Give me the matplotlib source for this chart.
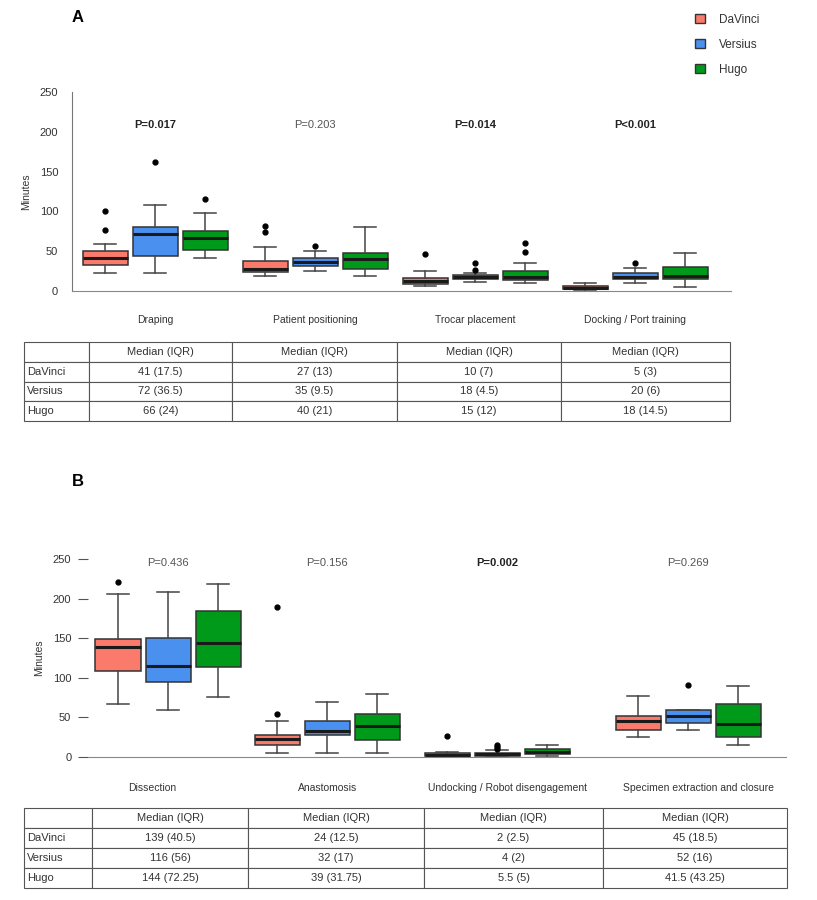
import numpy as np
import matplotlib
matplotlib.use('Agg')
import matplotlib.pyplot as plt
from matplotlib.patches import Patch

plt.rcParams['font.family'] = ['Liberation Sans', 'DejaVu Sans']

robots = ['DaVinci', 'Versius', 'Hugo']
colors = ['#FA7A6B', '#4A90EE', '#009A1A']

# panel A
a_phases = ['Draping', 'Patient positioning', 'Trocar placement', 'Docking / Port training']
a_pvals = ['P=0.017', 'P=0.203', 'P=0.014', 'P<0.001']
a_bold = [True, False, True, True]
# rows: DaVinci, Versius, Hugo ; columns: phases
a_whislo = [[22, 19, 6, 1], [23, 25, 11, 9.6], [41, 19, 10.5, 5.4]]
a_q1 = [[32.7, 23.5, 8.4, 2.5], [44.3, 31.8, 14.7, 15.5], [51, 28, 13.4, 14.7]]
a_med = [[41, 27.6, 12.5, 4.2], [71.6, 36, 17, 18], [66, 40, 18, 18.8]]
a_q3 = [[50.6, 37.7, 16.5, 6.3], [80.8, 41.9, 20, 23], [75.8, 48, 25, 29.8]]
a_whishi = [[58.6, 55, 25, 9.6], [108, 50, 23, 28.5], [98, 80, 35, 47.7]]
a_fliers = [[[100.5, 76.6], [82, 74.5], [47], []],
            [[162], [56.5], [35.5, 27], [35.5]],
            [[115.6], [], [49.4, 60.7], []]]
a_table = [['41 (17.5)', '27 (13)', '10 (7)', '5 (3)'],
           ['72 (36.5)', '35 (9.5)', '18 (4.5)', '20 (6)'],
           ['66 (24)', '40 (21)', '15 (12)', '18 (14.5)']]

# panel B
b_phases = ['Dissection', 'Anastomosis', 'Undocking / Robot disengagement', 'Specimen extraction and closure']
b_pvals = ['P=0.436', 'P=0.156', 'P=0.002', 'P=0.269']
b_bold = [False, False, True, False]
b_whislo = [[67.2, 5, 0.8, 24.7], [59.6, 5, 0.8, 34.4], [75.2, 5, 1.6, 15.1]]
b_q1 = [[108.8, 15.5, 1.6, 33.6], [94.6, 27.3, 1.6, 42.9], [113.5, 21.8, 3.8, 24.7]]
b_med = [[138.7, 22.7, 2.9, 45], [115.5, 32.3, 3.3, 51.2], [143.8, 38.6, 6.3, 41.6]]
b_q3 = [[149, 28, 5, 51.2], [150.8, 45, 5, 58.8], [184.9, 54.2, 10, 67.2]]
b_whishi = [[205.5, 45, 6.7, 76.4], [208, 69.4, 9.2, 59.6], [218, 79.8, 15.1, 89.9]]
b_fliers = [[[220.7], [54.6, 190], [26], []],
            [[], [], [10, 12.6, 15.5], [90.3]],
            [[], [], [], []]]
b_table = [['139 (40.5)', '24 (12.5)', '2 (2.5)', '45 (18.5)'],
           ['116 (56)', '32 (17)', '4 (2)', '52 (16)'],
           ['144 (72.25)', '39 (31.75)', '5.5 (5)', '41.5 (43.25)']]

yticks = [0, 50, 100, 150, 200, 250]

W, H = 817, 900
fig = plt.figure(figsize=(W / 100, H / 100), dpi=100)


def px_axes(x0, y0, x1, y1):
    return fig.add_axes([x0 / W, 1 - y1 / H, (x1 - x0) / W, (y1 - y0) / H])


def draw_boxes(ax, centers, whislo, q1, med, q3, whishi, fliers):
    offsets = [-1, 0, 1]
    for r in range(3):
        stats = []
        for g in range(4):
            stats.append(dict(whislo=whislo[r][g], q1=q1[r][g], med=med[r][g],
                              q3=q3[r][g], whishi=whishi[r][g], fliers=fliers[r][g]))
        pos = [c + offsets[r] for c in centers]
        ax.bxp(stats, positions=pos, widths=0.9, capwidths=0.45, patch_artist=True,
               showfliers=True, manage_ticks=False,
               boxprops=dict(facecolor=colors[r], edgecolor='#333333', linewidth=1.1),
               medianprops=dict(color='#1a1a1a', linewidth=2.2),
               whiskerprops=dict(color='#444444', linewidth=1.1),
               capprops=dict(color='#444444', linewidth=1.1),
               flierprops=dict(marker='o', markerfacecolor='black', markeredgecolor='black',
                               markersize=3.5))


def draw_table(ax, rows, col_widths):
    ax.axis('off')
    cells = [[''] + ['Median (IQR)'] * 4]
    for name, row in zip(robots, rows):
        cells.append([name] + row)
    tb = ax.table(cellText=cells, colWidths=col_widths, bbox=[0, 0, 1, 1], cellLoc='center')
    tb.auto_set_font_size(False)
    tb.set_fontsize(8)
    for (r, c), cell in tb.get_celld().items():
        cell.set_edgecolor('#555555')
        cell.set_linewidth(0.8)
        cell.get_text().set_color('#333333')
        if c == 0:
            cell.PAD = 0.05
            cell.get_text().set_horizontalalignment('left')
            cell._loc = 'left'


# ---- panel A ----
axA = px_axes(72, 92, 731, 291)
a_centers = np.arange(4) * 3.2
draw_boxes(axA, a_centers, a_whislo, a_q1, a_med, a_q3, a_whishi, a_fliers)
axA.set_xlim(-1.66, 11.52)
axA.set_ylim(0, 250)
axA.set_yticks(yticks)
axA.set_xticks(a_centers)
axA.set_xticklabels(a_phases)
axA.tick_params(axis='x', length=0, pad=17, labelsize=7.5, labelcolor='#333333')
axA.tick_params(axis='y', length=0, pad=10, labelsize=8, labelcolor='#333333')
for s in ['top', 'right']:
    axA.spines[s].set_visible(False)
axA.spines['left'].set_color('#777777')
axA.spines['bottom'].set_color('#888888')
axA.set_ylabel('Minutes', fontsize=7.5, color='#333333', labelpad=6)
for c, p, b in zip(a_centers, a_pvals, a_bold):
    axA.text(c, 209, p, ha='center', va='center', fontsize=8,
             fontweight='bold' if b else 'normal', color='#222222' if b else '#555555')

tabA = px_axes(24, 342, 730, 421)
draw_table(tabA, a_table, [65, 143, 165, 164, 169])

# ---- panel B ----
axB = px_axes(88, 559, 786, 757)
b_centers = [0, 3.18, 6.58, 10.4]
b_label_pos = [-0.32, 3.2, 6.78, 10.6]
draw_boxes(axB, b_centers, b_whislo, b_q1, b_med, b_q3, b_whishi, b_fliers)
axB.set_xlim(-1.6, 12.36)
axB.set_ylim(0, 250)
axB.set_yticks(yticks)
axB.set_xticks(b_label_pos)
axB.set_xticklabels(b_phases)
axB.tick_params(axis='x', length=0, pad=19, labelsize=7.5, labelcolor='#333333')
axB.tick_params(axis='y', length=7, width=0.8, color='#555555', pad=5, labelsize=8,
                labelcolor='#333333')
for s in ['top', 'right', 'left']:
    axB.spines[s].set_visible(False)
axB.spines['bottom'].set_color('#888888')
axB.set_ylabel('Minutes', fontsize=7.5, color='#333333', labelpad=6)
for c, p, b in zip(b_centers, b_pvals, b_bold):
    axB.text(c, 245, p, ha='center', va='center', fontsize=8,
             fontweight='bold' if b else 'normal', color='#222222' if b else '#555555')

tabB = px_axes(24, 808, 787, 888)
draw_table(tabB, b_table, [68, 156, 176, 179, 184])

# panel letters and legend
fig.text(78 / W, 1 - 18 / H, 'A', fontsize=12, fontweight='bold', ha='center', va='center')
fig.text(78 / W, 1 - 481 / H, 'B', fontsize=12, fontweight='bold', ha='center', va='center')

handles = [Patch(facecolor=c, edgecolor='#333333', linewidth=1) for c in colors]
fig.legend(handles, robots, loc='upper left', bbox_to_anchor=(684 / W, 1 - 3 / H),
           frameon=False, fontsize=8.5, handlelength=0.9, handleheight=0.9,
           labelspacing=1.1, handletextpad=1.2, labelcolor='#333333')

fig.savefig('out.png', dpi=100)
